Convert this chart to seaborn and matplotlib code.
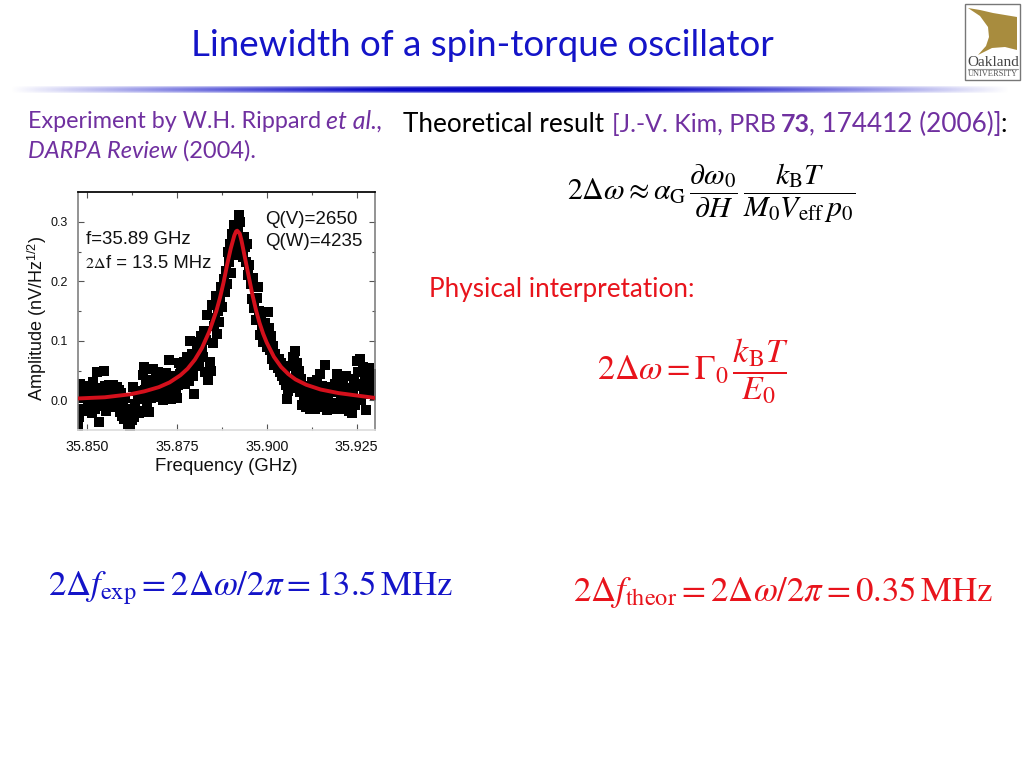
import numpy as np
import matplotlib
matplotlib.use('Agg')
import matplotlib.pyplot as plt
from matplotlib.patches import Polygon, Rectangle
import seaborn as sns

freq_ghz = [
    35.8475, 35.8478, 35.8481, 35.8484, 35.8487, 35.8490, 35.8493, 35.8496, 35.8499, 35.8502,
    35.8505, 35.8508, 35.8511, 35.8514, 35.8517, 35.8520, 35.8523, 35.8526, 35.8529, 35.8532,
    35.8535, 35.8538, 35.8541, 35.8544, 35.8547, 35.8550, 35.8553, 35.8556, 35.8559, 35.8562,
    35.8565, 35.8568, 35.8571, 35.8574, 35.8577, 35.8580, 35.8583, 35.8586, 35.8589, 35.8592,
    35.8595, 35.8598, 35.8601, 35.8604, 35.8607, 35.8610, 35.8613, 35.8616, 35.8619, 35.8622,
    35.8625, 35.8628, 35.8631, 35.8634, 35.8637, 35.8640, 35.8643, 35.8646, 35.8649, 35.8652,
    35.8655, 35.8658, 35.8661, 35.8664, 35.8667, 35.8670, 35.8673, 35.8676, 35.8679, 35.8682,
    35.8685, 35.8688, 35.8691, 35.8694, 35.8697, 35.8700, 35.8703, 35.8706, 35.8709, 35.8712,
    35.8715, 35.8718, 35.8721, 35.8724, 35.8727, 35.8730, 35.8733, 35.8736, 35.8739, 35.8742,
    35.8745, 35.8748, 35.8751, 35.8754, 35.8757, 35.8760, 35.8763, 35.8766, 35.8769, 35.8772,
    35.8775, 35.8778, 35.8781, 35.8784, 35.8787, 35.8790, 35.8793, 35.8796, 35.8799, 35.8802,
    35.8805, 35.8808, 35.8811, 35.8814, 35.8817, 35.8820, 35.8823, 35.8826, 35.8829, 35.8832,
    35.8835, 35.8838, 35.8841, 35.8844, 35.8847, 35.8850, 35.8853, 35.8856, 35.8859, 35.8862,
    35.8865, 35.8868, 35.8871, 35.8874, 35.8877, 35.8880, 35.8883, 35.8886, 35.8889, 35.8892,
    35.8895, 35.8898, 35.8901, 35.8904, 35.8907, 35.8910, 35.8913, 35.8916, 35.8919, 35.8922,
    35.8925, 35.8928, 35.8931, 35.8934, 35.8937, 35.8940, 35.8943, 35.8946, 35.8949, 35.8952,
    35.8955, 35.8958, 35.8961, 35.8964, 35.8967, 35.8970, 35.8973, 35.8976, 35.8979, 35.8982,
    35.8985, 35.8988, 35.8991, 35.8994, 35.8997, 35.9000, 35.9003, 35.9006, 35.9009, 35.9012,
    35.9015, 35.9018, 35.9021, 35.9024, 35.9027, 35.9030, 35.9033, 35.9036, 35.9039, 35.9042,
    35.9045, 35.9048, 35.9051, 35.9054, 35.9057, 35.9060, 35.9063, 35.9066, 35.9069, 35.9072,
    35.9075, 35.9078, 35.9081, 35.9084, 35.9087, 35.9090, 35.9093, 35.9096, 35.9099, 35.9102,
    35.9105, 35.9108, 35.9111, 35.9114, 35.9117, 35.9120, 35.9123, 35.9126, 35.9129, 35.9132,
    35.9135, 35.9138, 35.9141, 35.9144, 35.9147, 35.9150, 35.9153, 35.9156, 35.9159, 35.9162,
    35.9165, 35.9168, 35.9171, 35.9174, 35.9177, 35.9180, 35.9183, 35.9186, 35.9189, 35.9192,
    35.9195, 35.9198, 35.9201, 35.9204, 35.9207, 35.9210, 35.9213, 35.9216, 35.9219, 35.9222,
    35.9225, 35.9228, 35.9231, 35.9234, 35.9237, 35.9240, 35.9243, 35.9246, 35.9249, 35.9252,
    35.9255, 35.9258, 35.9261, 35.9264, 35.9267, 35.9270, 35.9273, 35.9276, 35.9279, 35.9282,
    35.9285, 35.9288, 35.9291, 35.9294, 35.9297, 35.9300,
]
amplitude = [
    -0.045, -0.028, 0.028, 0.004, -0.014, 0.020, 0.010, -0.018, 0.016, -0.006,
    0.024, -0.010, 0.014, -0.022, 0.030, 0.006, -0.014, 0.018, 0.047, -0.004,
    -0.037, 0.020, 0.012, -0.010, 0.049, 0.024, -0.018, 0.014, 0.006, 0.026,
    -0.008, 0.018, 0.010, 0.026, -0.012, 0.008, 0.022, 0.002, 0.018, -0.020,
    0.012, -0.026, -0.010, -0.032, 0.004, -0.030, -0.040, -0.014, -0.050, -0.024,
    -0.034, 0.022, -0.028, -0.006, 0.016, -0.018, 0.008, -0.022, 0.002, 0.012,
    0.042, 0.056, 0.018, 0.034, -0.004, 0.020, -0.020, 0.012, 0.004, 0.030,
    0.052, 0.014, 0.040, 0.024, 0.048, 0.006, 0.034, 0.016, 0.044, 0.000,
    0.038, 0.022, 0.046, 0.008, 0.068, 0.030, 0.002, 0.040, 0.024, 0.012,
    0.034, 0.018, 0.004, 0.026, 0.062, 0.044, 0.056, 0.036, 0.064, 0.028,
    0.046, 0.072, 0.060, 0.032, 0.100, 0.050, 0.078, 0.040, 0.010, 0.066,
    0.082, 0.098, 0.058, 0.076, 0.108, 0.090, 0.072, 0.116, 0.048, 0.102,
    0.144, 0.034, 0.065, 0.050, 0.160, 0.096, 0.124, 0.138, 0.176, 0.112,
    0.150, 0.132, 0.172, 0.190, 0.156, 0.204, 0.182, 0.218, 0.196, 0.250,
    0.232, 0.262, 0.214, 0.280, 0.244, 0.295, 0.255, 0.270, 0.285, 0.312,
    0.300, 0.250, 0.265, 0.240, 0.275, 0.258, 0.232, 0.262, 0.210, 0.228,
    0.195, 0.170, 0.205, 0.155, 0.190, 0.135, 0.172, 0.190, 0.150, 0.110,
    0.140, 0.118, 0.098, 0.130, 0.105, 0.090, 0.148, 0.122, 0.084, 0.108,
    0.070, 0.092, 0.060, 0.078, 0.066, 0.054, 0.070, 0.048, 0.062, 0.040,
    0.052, 0.034, 0.046, 0.026, 0.002, 0.016, 0.030, 0.058, 0.020, 0.072,
    0.066, 0.082, 0.048, 0.062, 0.030, 0.050, 0.014, 0.036, -0.008, 0.022,
    0.006, -0.012, 0.018, -0.004, 0.024, -0.014, 0.008, 0.030, -0.010, 0.012,
    -0.014, 0.002, 0.034, 0.016, 0.044, -0.006, 0.024, 0.008, -0.012, 0.060,
    0.010, -0.016, 0.002, -0.010, 0.022, -0.006, 0.014, -0.014, 0.028, -0.004,
    0.044, 0.016, -0.012, 0.038, 0.004, -0.014, 0.030, 0.018, 0.040, 0.002,
    -0.010, -0.018, 0.020, 0.006, -0.022, 0.012, 0.036, -0.008, 0.024, 0.066,
    0.048, 0.070, 0.000, 0.028, 0.056, 0.010, 0.040, -0.016, 0.050, 0.030,
    0.054, 0.014, 0.044, 0.022, 0.038, 0.008,
]

# red fit curve
fit_freq = [35.8475, 35.855, 35.862, 35.866, 35.870, 35.873, 35.876, 35.878, 35.880, 35.882,
            35.884, 35.886, 35.887, 35.888, 35.889, 35.890, 35.891, 35.8915, 35.8918, 35.8925,
            35.893, 35.894, 35.895, 35.896, 35.897, 35.898, 35.899, 35.900, 35.902, 35.904,
            35.906, 35.908, 35.911, 35.915, 35.920, 35.925, 35.930]
fit_amp = [0.003, 0.005, 0.010, 0.015, 0.022, 0.030, 0.042, 0.053, 0.068, 0.088,
           0.115, 0.150, 0.172, 0.198, 0.228, 0.255, 0.277, 0.284, 0.285, 0.280,
           0.268, 0.238, 0.208, 0.178, 0.152, 0.130, 0.112, 0.097, 0.073, 0.056,
           0.044, 0.035, 0.026, 0.018, 0.012, 0.008, 0.004]

x_ticks = [35.850, 35.875, 35.900, 35.925]
x_tick_labels = ['35.850', '35.875', '35.900', '35.925']
x_minor = [35.8625, 35.8875, 35.9125]
y_ticks = [0.0, 0.1, 0.2, 0.3]
y_tick_labels = ['0.0', '0.1', '0.2', '0.3']
y_minor = [0.05, 0.15, 0.25]

BLUE = '#1414c8'
PURPLE = '#7030a0'
RED = '#e8141c'
SANS = 'Liberation Sans'
SLIDE = 'Lato'

sns.set_theme(style='white')
plt.rcParams['font.family'] = ['Liberation Sans', 'DejaVu Sans']
plt.rcParams['mathtext.fontset'] = 'stix'

fig = plt.figure(figsize=(10.24, 7.68), dpi=100)

# overlay in pixel coordinates for the slide furniture
page = fig.add_axes([0, 0, 1, 1])
page.set_xlim(0, 1024)
page.set_ylim(768, 0)
page.axis('off')

# gradient rule under the title
xx = np.linspace(-1, 1, 1000)
yy = np.linspace(-1, 1, 9)
alpha = np.outer(np.clip(1 - np.abs(yy) ** 2, 0, 1), np.clip(1 - np.abs(xx) ** 1.3, 0, 1))
rule = np.zeros((9, 1000, 4))
rule[..., 0] = 0.04
rule[..., 1] = 0.04
rule[..., 2] = 0.78
rule[..., 3] = np.clip(alpha * 1.25, 0, 1)
page.imshow(rule, extent=(10, 1010, 94, 85), aspect='auto', interpolation='bilinear', zorder=1)
page.set_xlim(0, 1024)
page.set_ylim(768, 0)

page.text(482, 46, 'Linewidth of a spin-torque oscillator', color=BLUE, fontsize=26.5,
          family=SLIDE, ha='center', va='center')

# logo
page.add_patch(Rectangle((965, 4), 55, 76, fc='white', ec='#777777', lw=1))
page.add_patch(Polygon([(968, 8), (980, 10), (993, 13), (1005, 15), (1017, 17), (1017, 50),
                        (1005, 47), (992, 48), (978, 55), (986, 46), (989, 37), (988, 27),
                        (980, 16)], fc='#a88c3e', ec='none'))
page.text(993, 63, 'Oakland', color='#444444', fontsize=11, family='Liberation Serif',
          ha='center', va='center')
page.plot([968, 1018], [69, 69], color='#999999', lw=0.8)
page.text(993, 74.5, 'UNIVERSITY', color='#555555', fontsize=6, family='Liberation Serif',
          ha='center', va='center')

# citations
page.text(28, 121, 'Experiment by W.H. Rippard', color=PURPLE, fontsize=16.8, family=SLIDE, va='center')
page.text(326, 121, 'et al.,', color=PURPLE, fontsize=18, family=SLIDE, style='italic', va='center')
page.text(28, 151, 'DARPA Review', color=PURPLE, fontsize=17, family=SLIDE, style='italic', va='center')
page.text(183, 151, '(2004).', color=PURPLE, fontsize=17, family=SLIDE, va='center')

page.text(403, 124, 'Theoretical result', color='black', fontsize=18.8, family=SLIDE, va='center')
page.text(612, 124, '[J.-V. Kim, PRB', color=PURPLE, fontsize=18, family=SLIDE, va='center')
page.text(781, 124, '73', color=PURPLE, fontsize=18, family=SLIDE, weight='bold', va='center')
page.text(809, 124, ', 174412 (2006)]', color=PURPLE, fontsize=18.8, family=SLIDE, va='center')
page.text(1000, 124, ':', color='black', fontsize=18.8, family=SLIDE, va='center')
page.text(429, 289, 'Physical interpretation:', color=RED, fontsize=18.8, family=SLIDE, va='center')

# equations
page.text(567, 193, r'$2\Delta\omega\approx\alpha_{\mathrm{G}}\,\dfrac{\partial\omega_0}{\partial H}\,'
          r'\dfrac{k_{\mathrm{B}}T}{M_0V_{\mathrm{eff}}\,p_0}$', color='black', fontsize=21.5, va='center')
page.text(597, 371, r'$2\Delta\omega=\Gamma_0\,\dfrac{k_{\mathrm{B}}T}{E_0}$', color=RED, fontsize=24.5, va='center')
page.text(48, 588, r'$2\Delta f_{\mathrm{exp}}=2\Delta\omega/2\pi=13.5\,\mathrm{MHz}$', color=BLUE,
          fontsize=25, va='center')
page.text(573, 592, r'$2\Delta f_{\mathrm{theor}}=2\Delta\omega/2\pi=0.35\,\mathrm{MHz}$', color=RED,
          fontsize=25, va='center')

# spectrum panel, box 77..375 x 192..430 px
ax = fig.add_axes([77.5 / 1024, 1 - 430 / 768, 297.5 / 1024, 238 / 768])
ax.set_facecolor('none')
sns.scatterplot(x=freq_ghz, y=amplitude, marker='s', s=44, color='black', linewidth=0, ax=ax,
                clip_on=True, zorder=2)
sns.lineplot(x=fit_freq, y=fit_amp, color='#d4101c', lw=2.8, ax=ax, estimator=None, sort=False,
             zorder=3)
ax.set_xlim(35.8474, 35.9301)
ax.set_ylim(-0.05, 0.35)
ax.set_xticks(x_ticks, x_tick_labels)
ax.set_yticks(y_ticks, y_tick_labels)
ax.set_xticks(x_minor, minor=True)
ax.set_yticks(y_minor, minor=True)
ax.tick_params(which='both', direction='in', top=True, right=True, bottom=True, left=True,
               color='#555555', width=0.8, labelcolor='#111111')
ax.tick_params(which='major', length=4)
ax.tick_params(which='minor', length=2.5)
ax.tick_params(axis='x', which='major', labelsize=10.3, pad=7)
ax.tick_params(axis='y', which='major', labelsize=9, pad=7)
ax.set_xlabel('Frequency (GHz)', fontsize=13.4, labelpad=3, color='#111111')
ax.set_ylabel(r'Amplitude (nV/Hz$^{\mathregular{1/2}}$)', fontsize=13, color='#111111')
ax.yaxis.set_label_coords(-0.095, 0.47)
ax.spines['top'].set_color('black')
ax.spines['left'].set_color('#808080')
ax.spines['right'].set_color('#808080')
ax.spines['bottom'].set_color('#dddddd')
for side in ['left', 'right']:
    ax.spines[side].set_linewidth(1.2)

# annotations inside the panel, drawn on top in pixel coordinates
top = fig.add_axes([0, 0, 1, 1])
top.set_xlim(0, 1024)
top.set_ylim(768, 0)
top.axis('off')
top.patch.set_alpha(0)
top.text(86, 239, 'f=35.89 GHz', fontsize=13.4, color='#111111', va='center')
top.text(85, 264, r'$2\Delta$', fontsize=11.5, color='#111111', va='center')
top.text(106.5, 264, 'f = 13.5 MHz', fontsize=13.3, color='#111111', va='center')
top.text(265, 219, 'Q(V)=2650', fontsize=13.5, color='#111111', va='center')
top.text(265, 241, 'Q(W)=4235', fontsize=13.5, color='#111111', va='center')

fig.savefig('out.png', dpi=100)
